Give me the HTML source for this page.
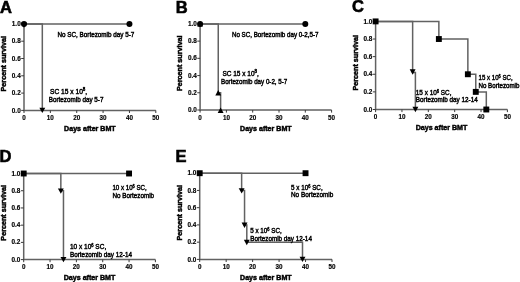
<!DOCTYPE html>
<html><head><meta charset="utf-8"><style>
html,body{margin:0;padding:0;background:#fff;}
body{width:520px;height:282px;overflow:hidden;}
svg{display:block;font-family:"Liberation Sans", sans-serif;fill:#000;will-change:transform;}
text{stroke:#000;stroke-width:0.45px;}
</style></head><body>
<svg width="520" height="282" viewBox="0 0 520 282">
<text x="0.10" y="12.50" font-size="16.5" font-weight="bold" text-anchor="start" style="stroke-width:0.6px">A</text>
<path d="M24.00 23.90V110.40H155.80" fill="none" stroke="#626262" stroke-width="1.5"/>
<path d="M21.20 110.40H24.00" stroke="#3a3a3a" stroke-width="1"/>
<text x="20.70" y="112.50" font-size="6.4" font-weight="bold" text-anchor="end" style="stroke-width:0.15px">0.0</text>
<path d="M21.20 93.10H24.00" stroke="#3a3a3a" stroke-width="1"/>
<text x="20.70" y="95.20" font-size="6.4" font-weight="bold" text-anchor="end" style="stroke-width:0.15px">0.2</text>
<path d="M21.20 75.80H24.00" stroke="#3a3a3a" stroke-width="1"/>
<text x="20.70" y="77.90" font-size="6.4" font-weight="bold" text-anchor="end" style="stroke-width:0.15px">0.4</text>
<path d="M21.20 58.50H24.00" stroke="#3a3a3a" stroke-width="1"/>
<text x="20.70" y="60.60" font-size="6.4" font-weight="bold" text-anchor="end" style="stroke-width:0.15px">0.6</text>
<path d="M21.20 41.20H24.00" stroke="#3a3a3a" stroke-width="1"/>
<text x="20.70" y="43.30" font-size="6.4" font-weight="bold" text-anchor="end" style="stroke-width:0.15px">0.8</text>
<path d="M21.20 23.90H24.00" stroke="#3a3a3a" stroke-width="1"/>
<text x="20.70" y="26.00" font-size="6.4" font-weight="bold" text-anchor="end" style="stroke-width:0.15px">1.0</text>
<path d="M24.00 110.40V113.00" stroke="#3a3a3a" stroke-width="1"/>
<text x="24.00" y="119.90" font-size="6.3" font-weight="bold" text-anchor="middle" style="stroke-width:0.15px">0</text>
<path d="M50.36 110.40V113.00" stroke="#3a3a3a" stroke-width="1"/>
<text x="50.36" y="119.90" font-size="6.3" font-weight="bold" text-anchor="middle" style="stroke-width:0.15px">10</text>
<path d="M76.72 110.40V113.00" stroke="#3a3a3a" stroke-width="1"/>
<text x="76.72" y="119.90" font-size="6.3" font-weight="bold" text-anchor="middle" style="stroke-width:0.15px">20</text>
<path d="M103.08 110.40V113.00" stroke="#3a3a3a" stroke-width="1"/>
<text x="103.08" y="119.90" font-size="6.3" font-weight="bold" text-anchor="middle" style="stroke-width:0.15px">30</text>
<path d="M129.44 110.40V113.00" stroke="#3a3a3a" stroke-width="1"/>
<text x="129.44" y="119.90" font-size="6.3" font-weight="bold" text-anchor="middle" style="stroke-width:0.15px">40</text>
<path d="M155.80 110.40V113.00" stroke="#3a3a3a" stroke-width="1"/>
<text x="155.80" y="119.90" font-size="6.3" font-weight="bold" text-anchor="middle" style="stroke-width:0.15px">50</text>
<text x="89.90" y="131.00" font-size="7.1" font-weight="bold" text-anchor="middle">Days after BMT</text>
<text transform="translate(6.20,91.45) rotate(-90)" font-size="7.2" font-weight="bold" text-anchor="start">Percent survival</text>
<path d="M24.00 23.90L129.44 23.90" fill="none" stroke="#626262" stroke-width="1.5"/>
<path d="M24.00 23.90L42.32 23.90L42.32 110.40" fill="none" stroke="#626262" stroke-width="1.5"/>
<circle cx="24.00" cy="23.90" r="3.0" fill="#000"/>
<circle cx="129.44" cy="23.90" r="3.0" fill="#000"/>
<path d="M21.05 22.40H26.95L24.00 27.80Z" fill="#000"/>
<path d="M39.37 107.70H45.27L42.32 113.10Z" fill="#000"/>
<text x="57.40" y="37.10" font-size="7" font-weight="normal" text-anchor="start" textLength="77.0" lengthAdjust="spacingAndGlyphs">No SC, Bortezomib day 5-7</text>
<text x="50.00" y="93.80" font-size="7" textLength="37.2" lengthAdjust="spacingAndGlyphs">SC 15 x 10<tspan font-size="4.76" dy="-3.0">8</tspan><tspan dy="3.0">,</tspan></text>
<text x="48.80" y="102.00" font-size="7" font-weight="normal" text-anchor="start" textLength="54.6" lengthAdjust="spacingAndGlyphs">Bortezomib day 5-7</text>
<text x="175.70" y="12.60" font-size="16.5" font-weight="bold" text-anchor="start" style="stroke-width:0.6px">B</text>
<path d="M200.10 23.90V110.00H331.60" fill="none" stroke="#626262" stroke-width="1.5"/>
<path d="M197.30 110.00H200.10" stroke="#3a3a3a" stroke-width="1"/>
<text x="196.80" y="112.10" font-size="6.4" font-weight="bold" text-anchor="end" style="stroke-width:0.15px">0.0</text>
<path d="M197.30 92.78H200.10" stroke="#3a3a3a" stroke-width="1"/>
<text x="196.80" y="94.88" font-size="6.4" font-weight="bold" text-anchor="end" style="stroke-width:0.15px">0.2</text>
<path d="M197.30 75.56H200.10" stroke="#3a3a3a" stroke-width="1"/>
<text x="196.80" y="77.66" font-size="6.4" font-weight="bold" text-anchor="end" style="stroke-width:0.15px">0.4</text>
<path d="M197.30 58.34H200.10" stroke="#3a3a3a" stroke-width="1"/>
<text x="196.80" y="60.44" font-size="6.4" font-weight="bold" text-anchor="end" style="stroke-width:0.15px">0.6</text>
<path d="M197.30 41.12H200.10" stroke="#3a3a3a" stroke-width="1"/>
<text x="196.80" y="43.22" font-size="6.4" font-weight="bold" text-anchor="end" style="stroke-width:0.15px">0.8</text>
<path d="M197.30 23.90H200.10" stroke="#3a3a3a" stroke-width="1"/>
<text x="196.80" y="26.00" font-size="6.4" font-weight="bold" text-anchor="end" style="stroke-width:0.15px">1.0</text>
<path d="M200.10 110.00V112.60" stroke="#3a3a3a" stroke-width="1"/>
<text x="200.10" y="119.50" font-size="6.3" font-weight="bold" text-anchor="middle" style="stroke-width:0.15px">0</text>
<path d="M226.40 110.00V112.60" stroke="#3a3a3a" stroke-width="1"/>
<text x="226.40" y="119.50" font-size="6.3" font-weight="bold" text-anchor="middle" style="stroke-width:0.15px">10</text>
<path d="M252.70 110.00V112.60" stroke="#3a3a3a" stroke-width="1"/>
<text x="252.70" y="119.50" font-size="6.3" font-weight="bold" text-anchor="middle" style="stroke-width:0.15px">20</text>
<path d="M279.00 110.00V112.60" stroke="#3a3a3a" stroke-width="1"/>
<text x="279.00" y="119.50" font-size="6.3" font-weight="bold" text-anchor="middle" style="stroke-width:0.15px">30</text>
<path d="M305.30 110.00V112.60" stroke="#3a3a3a" stroke-width="1"/>
<text x="305.30" y="119.50" font-size="6.3" font-weight="bold" text-anchor="middle" style="stroke-width:0.15px">40</text>
<path d="M331.60 110.00V112.60" stroke="#3a3a3a" stroke-width="1"/>
<text x="331.60" y="119.50" font-size="6.3" font-weight="bold" text-anchor="middle" style="stroke-width:0.15px">50</text>
<text x="265.85" y="130.60" font-size="7.1" font-weight="bold" text-anchor="middle">Days after BMT</text>
<text transform="translate(182.30,91.05) rotate(-90)" font-size="7.2" font-weight="bold" text-anchor="start">Percent survival</text>
<path d="M200.10 23.90L305.30 23.90" fill="none" stroke="#626262" stroke-width="1.5"/>
<path d="M200.10 23.90L218.25 23.90L218.25 92.78L220.61 92.78L220.61 110.00" fill="none" stroke="#626262" stroke-width="1.5"/>
<circle cx="200.10" cy="23.90" r="3.0" fill="#000"/>
<circle cx="305.30" cy="23.90" r="3.0" fill="#000"/>
<path d="M197.15 26.60H203.05L200.10 21.20Z" fill="#000"/>
<path d="M215.30 95.48H221.20L218.25 90.08Z" fill="#000"/>
<path d="M217.66 113.00H223.56L220.61 107.60Z" fill="#000"/>
<text x="231.90" y="37.00" font-size="7" font-weight="normal" text-anchor="start" textLength="86.6" lengthAdjust="spacingAndGlyphs">No SC, Bortezomib day 0-2,5-7</text>
<text x="222.40" y="76.40" font-size="7" textLength="36.4" lengthAdjust="spacingAndGlyphs">SC 15 x 10<tspan font-size="4.76" dy="-3.5">8</tspan><tspan dy="3.5">,</tspan></text>
<text x="221.00" y="83.90" font-size="7" font-weight="normal" text-anchor="start" textLength="66.3" lengthAdjust="spacingAndGlyphs">Bortezomib day 0-2, 5-7</text>
<text x="352.00" y="12.40" font-size="16.5" font-weight="bold" text-anchor="start" style="stroke-width:0.6px">C</text>
<path d="M375.60 21.40V109.50H507.40" fill="none" stroke="#626262" stroke-width="1.5"/>
<path d="M372.80 109.50H375.60" stroke="#3a3a3a" stroke-width="1"/>
<text x="372.30" y="111.60" font-size="6.4" font-weight="bold" text-anchor="end" style="stroke-width:0.15px">0.0</text>
<path d="M372.80 91.88H375.60" stroke="#3a3a3a" stroke-width="1"/>
<text x="372.30" y="93.98" font-size="6.4" font-weight="bold" text-anchor="end" style="stroke-width:0.15px">0.2</text>
<path d="M372.80 74.26H375.60" stroke="#3a3a3a" stroke-width="1"/>
<text x="372.30" y="76.36" font-size="6.4" font-weight="bold" text-anchor="end" style="stroke-width:0.15px">0.4</text>
<path d="M372.80 56.64H375.60" stroke="#3a3a3a" stroke-width="1"/>
<text x="372.30" y="58.74" font-size="6.4" font-weight="bold" text-anchor="end" style="stroke-width:0.15px">0.6</text>
<path d="M372.80 39.02H375.60" stroke="#3a3a3a" stroke-width="1"/>
<text x="372.30" y="41.12" font-size="6.4" font-weight="bold" text-anchor="end" style="stroke-width:0.15px">0.8</text>
<path d="M372.80 21.40H375.60" stroke="#3a3a3a" stroke-width="1"/>
<text x="372.30" y="23.50" font-size="6.4" font-weight="bold" text-anchor="end" style="stroke-width:0.15px">1.0</text>
<path d="M375.60 109.50V112.10" stroke="#3a3a3a" stroke-width="1"/>
<text x="375.60" y="119.00" font-size="6.3" font-weight="bold" text-anchor="middle" style="stroke-width:0.15px">0</text>
<path d="M401.96 109.50V112.10" stroke="#3a3a3a" stroke-width="1"/>
<text x="401.96" y="119.00" font-size="6.3" font-weight="bold" text-anchor="middle" style="stroke-width:0.15px">10</text>
<path d="M428.32 109.50V112.10" stroke="#3a3a3a" stroke-width="1"/>
<text x="428.32" y="119.00" font-size="6.3" font-weight="bold" text-anchor="middle" style="stroke-width:0.15px">20</text>
<path d="M454.68 109.50V112.10" stroke="#3a3a3a" stroke-width="1"/>
<text x="454.68" y="119.00" font-size="6.3" font-weight="bold" text-anchor="middle" style="stroke-width:0.15px">30</text>
<path d="M481.04 109.50V112.10" stroke="#3a3a3a" stroke-width="1"/>
<text x="481.04" y="119.00" font-size="6.3" font-weight="bold" text-anchor="middle" style="stroke-width:0.15px">40</text>
<path d="M507.40 109.50V112.10" stroke="#3a3a3a" stroke-width="1"/>
<text x="507.40" y="119.00" font-size="6.3" font-weight="bold" text-anchor="middle" style="stroke-width:0.15px">50</text>
<text x="441.50" y="130.10" font-size="7.1" font-weight="bold" text-anchor="middle">Days after BMT</text>
<text transform="translate(357.80,90.55) rotate(-90)" font-size="7.2" font-weight="bold" text-anchor="start">Percent survival</text>
<path d="M375.60 21.40L438.86 21.40L438.86 39.02L467.86 39.02L467.86 74.26L475.77 74.26L475.77 91.88L486.31 91.88L486.31 109.50" fill="none" stroke="#626262" stroke-width="1.5"/>
<path d="M375.60 21.40L412.64 21.40L412.64 72.50L415.40 72.50L415.40 109.50" fill="none" stroke="#626262" stroke-width="1.5"/>
<rect x="372.65" y="18.45" width="5.9" height="5.9" fill="#000"/>
<rect x="435.91" y="36.07" width="5.9" height="5.9" fill="#000"/>
<rect x="464.91" y="71.31" width="5.9" height="5.9" fill="#000"/>
<rect x="472.82" y="88.93" width="5.9" height="5.9" fill="#000"/>
<rect x="483.36" y="106.55" width="5.9" height="5.9" fill="#000"/>
<path d="M409.69 69.32H415.59L412.64 74.72Z" fill="#000"/>
<path d="M412.45 106.80H418.35L415.40 112.20Z" fill="#000"/>
<text x="415.80" y="94.70" font-size="7" textLength="35.7" lengthAdjust="spacingAndGlyphs">15 x 10<tspan font-size="4.41" dy="-2.1">6</tspan><tspan dy="2.1"> SC,</tspan></text>
<text x="415.80" y="102.30" font-size="7" font-weight="normal" text-anchor="start" textLength="61.9" lengthAdjust="spacingAndGlyphs">Bortezomib day 12-14</text>
<text x="478.50" y="79.90" font-size="7" textLength="34.1" lengthAdjust="spacingAndGlyphs">15 x 10<tspan font-size="4.41" dy="-2.1">6</tspan><tspan dy="2.1"> SC,</tspan></text>
<text x="478.50" y="87.70" font-size="7" font-weight="normal" text-anchor="start" textLength="40.9" lengthAdjust="spacingAndGlyphs">No Bortezomib</text>
<text x="-0.60" y="162.00" font-size="16.5" font-weight="bold" text-anchor="start" style="stroke-width:0.6px">D</text>
<path d="M23.70 173.50V259.60H155.40" fill="none" stroke="#626262" stroke-width="1.5"/>
<path d="M20.90 259.60H23.70" stroke="#3a3a3a" stroke-width="1"/>
<text x="20.40" y="261.70" font-size="6.4" font-weight="bold" text-anchor="end" style="stroke-width:0.15px">0.0</text>
<path d="M20.90 242.38H23.70" stroke="#3a3a3a" stroke-width="1"/>
<text x="20.40" y="244.48" font-size="6.4" font-weight="bold" text-anchor="end" style="stroke-width:0.15px">0.2</text>
<path d="M20.90 225.16H23.70" stroke="#3a3a3a" stroke-width="1"/>
<text x="20.40" y="227.26" font-size="6.4" font-weight="bold" text-anchor="end" style="stroke-width:0.15px">0.4</text>
<path d="M20.90 207.94H23.70" stroke="#3a3a3a" stroke-width="1"/>
<text x="20.40" y="210.04" font-size="6.4" font-weight="bold" text-anchor="end" style="stroke-width:0.15px">0.6</text>
<path d="M20.90 190.72H23.70" stroke="#3a3a3a" stroke-width="1"/>
<text x="20.40" y="192.82" font-size="6.4" font-weight="bold" text-anchor="end" style="stroke-width:0.15px">0.8</text>
<path d="M20.90 173.50H23.70" stroke="#3a3a3a" stroke-width="1"/>
<text x="20.40" y="175.60" font-size="6.4" font-weight="bold" text-anchor="end" style="stroke-width:0.15px">1.0</text>
<path d="M23.70 259.60V262.20" stroke="#3a3a3a" stroke-width="1"/>
<text x="23.70" y="269.10" font-size="6.3" font-weight="bold" text-anchor="middle" style="stroke-width:0.15px">0</text>
<path d="M50.04 259.60V262.20" stroke="#3a3a3a" stroke-width="1"/>
<text x="50.04" y="269.10" font-size="6.3" font-weight="bold" text-anchor="middle" style="stroke-width:0.15px">10</text>
<path d="M76.38 259.60V262.20" stroke="#3a3a3a" stroke-width="1"/>
<text x="76.38" y="269.10" font-size="6.3" font-weight="bold" text-anchor="middle" style="stroke-width:0.15px">20</text>
<path d="M102.72 259.60V262.20" stroke="#3a3a3a" stroke-width="1"/>
<text x="102.72" y="269.10" font-size="6.3" font-weight="bold" text-anchor="middle" style="stroke-width:0.15px">30</text>
<path d="M129.06 259.60V262.20" stroke="#3a3a3a" stroke-width="1"/>
<text x="129.06" y="269.10" font-size="6.3" font-weight="bold" text-anchor="middle" style="stroke-width:0.15px">40</text>
<path d="M155.40 259.60V262.20" stroke="#3a3a3a" stroke-width="1"/>
<text x="155.40" y="269.10" font-size="6.3" font-weight="bold" text-anchor="middle" style="stroke-width:0.15px">50</text>
<text x="89.55" y="280.20" font-size="7.1" font-weight="bold" text-anchor="middle">Days after BMT</text>
<text transform="translate(5.90,240.65) rotate(-90)" font-size="7.2" font-weight="bold" text-anchor="start">Percent survival</text>
<path d="M23.70 173.50L129.06 173.50" fill="none" stroke="#626262" stroke-width="1.5"/>
<path d="M23.70 173.50L60.84 173.50L60.84 190.72L63.47 190.72L63.47 259.60" fill="none" stroke="#626262" stroke-width="1.5"/>
<rect x="20.75" y="170.55" width="5.9" height="5.9" fill="#000"/>
<rect x="126.11" y="170.55" width="5.9" height="5.9" fill="#000"/>
<path d="M57.89 188.42H63.79L60.84 193.82Z" fill="#000"/>
<path d="M60.52 256.90H66.42L63.47 262.30Z" fill="#000"/>
<text x="112.40" y="190.30" font-size="7" textLength="34.3" lengthAdjust="spacingAndGlyphs">10 x 10<tspan font-size="4.41" dy="-2.1">6</tspan><tspan dy="2.1"> SC,</tspan></text>
<text x="112.40" y="197.80" font-size="7" font-weight="normal" text-anchor="start" textLength="41.7" lengthAdjust="spacingAndGlyphs">No Bortezomib</text>
<text x="70.00" y="249.20" font-size="7" textLength="36.2" lengthAdjust="spacingAndGlyphs">10 x 10<tspan font-size="4.41" dy="-2.1">6</tspan><tspan dy="2.1"> SC,</tspan></text>
<text x="70.00" y="256.50" font-size="7" font-weight="normal" text-anchor="start" textLength="62.0" lengthAdjust="spacingAndGlyphs">Bortezomib day 12-14</text>
<text x="175.50" y="161.90" font-size="16.5" font-weight="bold" text-anchor="start" style="stroke-width:0.6px">E</text>
<path d="M199.70 173.20V259.40H332.00" fill="none" stroke="#626262" stroke-width="1.5"/>
<path d="M196.90 259.40H199.70" stroke="#3a3a3a" stroke-width="1"/>
<text x="196.40" y="261.50" font-size="6.4" font-weight="bold" text-anchor="end" style="stroke-width:0.15px">0.0</text>
<path d="M196.90 242.16H199.70" stroke="#3a3a3a" stroke-width="1"/>
<text x="196.40" y="244.26" font-size="6.4" font-weight="bold" text-anchor="end" style="stroke-width:0.15px">0.2</text>
<path d="M196.90 224.92H199.70" stroke="#3a3a3a" stroke-width="1"/>
<text x="196.40" y="227.02" font-size="6.4" font-weight="bold" text-anchor="end" style="stroke-width:0.15px">0.4</text>
<path d="M196.90 207.68H199.70" stroke="#3a3a3a" stroke-width="1"/>
<text x="196.40" y="209.78" font-size="6.4" font-weight="bold" text-anchor="end" style="stroke-width:0.15px">0.6</text>
<path d="M196.90 190.44H199.70" stroke="#3a3a3a" stroke-width="1"/>
<text x="196.40" y="192.54" font-size="6.4" font-weight="bold" text-anchor="end" style="stroke-width:0.15px">0.8</text>
<path d="M196.90 173.20H199.70" stroke="#3a3a3a" stroke-width="1"/>
<text x="196.40" y="175.30" font-size="6.4" font-weight="bold" text-anchor="end" style="stroke-width:0.15px">1.0</text>
<path d="M199.70 259.40V262.00" stroke="#3a3a3a" stroke-width="1"/>
<text x="199.70" y="268.90" font-size="6.3" font-weight="bold" text-anchor="middle" style="stroke-width:0.15px">0</text>
<path d="M226.16 259.40V262.00" stroke="#3a3a3a" stroke-width="1"/>
<text x="226.16" y="268.90" font-size="6.3" font-weight="bold" text-anchor="middle" style="stroke-width:0.15px">10</text>
<path d="M252.62 259.40V262.00" stroke="#3a3a3a" stroke-width="1"/>
<text x="252.62" y="268.90" font-size="6.3" font-weight="bold" text-anchor="middle" style="stroke-width:0.15px">20</text>
<path d="M279.08 259.40V262.00" stroke="#3a3a3a" stroke-width="1"/>
<text x="279.08" y="268.90" font-size="6.3" font-weight="bold" text-anchor="middle" style="stroke-width:0.15px">30</text>
<path d="M305.54 259.40V262.00" stroke="#3a3a3a" stroke-width="1"/>
<text x="305.54" y="268.90" font-size="6.3" font-weight="bold" text-anchor="middle" style="stroke-width:0.15px">40</text>
<path d="M332.00 259.40V262.00" stroke="#3a3a3a" stroke-width="1"/>
<text x="332.00" y="268.90" font-size="6.3" font-weight="bold" text-anchor="middle" style="stroke-width:0.15px">50</text>
<text x="265.85" y="280.00" font-size="7.1" font-weight="bold" text-anchor="middle">Days after BMT</text>
<text transform="translate(181.90,240.45) rotate(-90)" font-size="7.2" font-weight="bold" text-anchor="start">Percent survival</text>
<path d="M199.70 173.20L305.54 173.20" fill="none" stroke="#626262" stroke-width="1.5"/>
<path d="M199.70 173.20L241.64 173.20L241.64 190.44L244.55 190.44L244.55 224.92L246.80 224.92L246.80 242.16L302.50 242.16L302.50 259.40" fill="none" stroke="#626262" stroke-width="1.5"/>
<rect x="196.75" y="170.25" width="5.9" height="5.9" fill="#000"/>
<rect x="302.59" y="170.25" width="5.9" height="5.9" fill="#000"/>
<path d="M238.69 188.14H244.59L241.64 193.54Z" fill="#000"/>
<path d="M241.60 222.62H247.50L244.55 228.02Z" fill="#000"/>
<path d="M243.85 239.86H249.75L246.80 245.26Z" fill="#000"/>
<path d="M299.55 256.70H305.45L302.50 262.10Z" fill="#000"/>
<text x="291.00" y="189.80" font-size="7" textLength="31.7" lengthAdjust="spacingAndGlyphs">5 x 10<tspan font-size="4.41" dy="-2.1">6</tspan><tspan dy="2.1"> SC,</tspan></text>
<text x="291.00" y="197.30" font-size="7" font-weight="normal" text-anchor="start" textLength="42.3" lengthAdjust="spacingAndGlyphs">No Bortezomib</text>
<text x="250.20" y="232.80" font-size="7" textLength="31.6" lengthAdjust="spacingAndGlyphs">5 x 10<tspan font-size="4.41" dy="-2.1">6</tspan><tspan dy="2.1"> SC,</tspan></text>
<text x="250.20" y="240.80" font-size="7" font-weight="normal" text-anchor="start" textLength="61.7" lengthAdjust="spacingAndGlyphs">Bortezomib day 12-14</text>
</svg>
</body></html>
